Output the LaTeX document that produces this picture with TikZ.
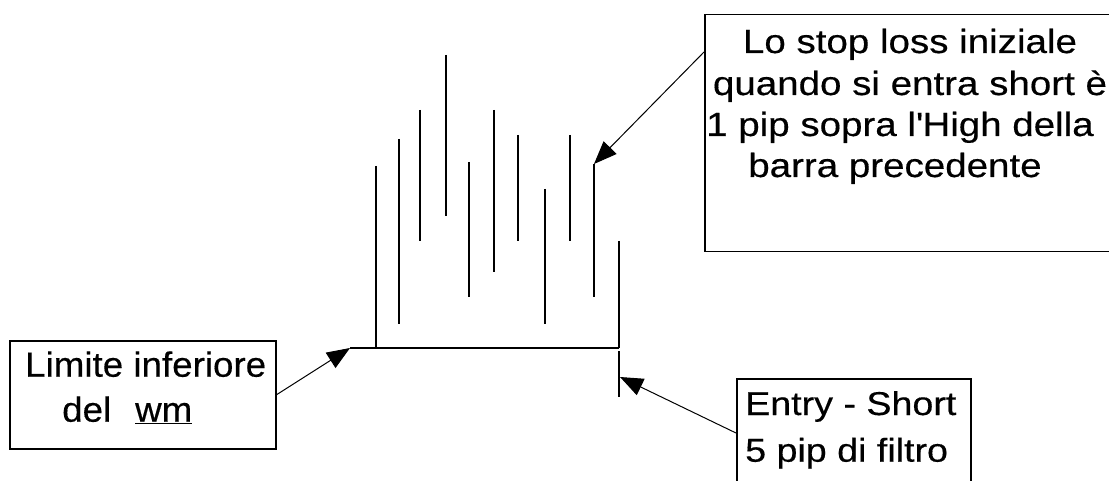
\documentclass[tikz,border=0pt]{standalone}
\usepackage{fontspec}
\setmainfont{Liberation Sans}[FakeStretch=1.12]
\newfontfamily\leftfont{Liberation Sans}[FakeStretch=1.05,FakeBold=0.4]
\newfontfamily\entryfont{Liberation Sans}[FakeStretch=1.14,FakeBold=0.4]
\newfontfamily\topfont{Liberation Sans}[FakeStretch=1.15,FakeBold=0.4]
\usetikzlibrary{arrows.meta}
\begin{document}
\begin{tikzpicture}[x=1pt,y=-1pt,
  box/.style={draw=black,line width=1.5pt,rectangle,inner sep=0pt,anchor=north west},
  bar/.style={line width=2pt,black},
  ltxt/.style={inner sep=0pt,anchor=base west,font=\leftfont\fontsize{35pt}{45pt}\selectfont},
  etxt/.style={inner sep=0pt,anchor=base west,font=\entryfont\fontsize{33pt}{45pt}\selectfont},
  ttxt/.style={inner sep=0pt,anchor=base,font=\topfont\fontsize{33.5pt}{41pt}\selectfont},
  pointer/.style={line width=1pt,-{Triangle[length=23pt,width=18pt]}}]
\clip (0,0) rectangle (1109,481);
\fill[white] (0,0) rectangle (1109,481);
% bars
\draw[bar] (375.7,166) -- (375.7,348);
\draw[bar] (399.3,139) -- (399.3,324);
\draw[bar] (420.3,110) -- (420.3,241);
\draw[bar] (446,55) -- (446,216);
\draw[bar] (469.3,162) -- (469.3,297);
\draw[bar] (494.3,110) -- (494.3,272);
\draw[bar] (518,135) -- (518,241);
\draw[bar] (545,189) -- (545,324);
\draw[bar] (570,135) -- (570,241);
\draw[bar] (594,164) -- (594,297);
\draw[bar] (619.3,241) -- (619.3,348);
\draw[bar] (619.3,351) -- (619.3,397);
\draw[bar] (350,348) -- (619.3,348);
\coordinate (bl) at (350,348);
\coordinate (b10t) at (594,164);
\coordinate (entrytip) at (620,377);
% boxes
\node[box,minimum width=266pt,minimum height=108pt] (lbox) at (9,340) {};
\node[box,minimum width=420pt,minimum height=237pt] (trbox) at (704,14) {};
\node[box,minimum width=234pt,minimum height=140pt] (ebox) at (736,378) {};
\coordinate (trs) at (704,52);
\coordinate (es) at (736,433);
% texts
\node[ltxt] (l1) at (25,376.7) {Limite inferiore};
\node[ltxt] (l2) at (62,421.7) {\makebox[73pt][l]{del}\underline{wm}};
\node[etxt] (e1) at (745,415) {Entry - Short};
\node[etxt] (e2) at (745,461.7) {5 pip di filtro};
\node[ttxt] (t1) at (910,53) {Lo stop loss iniziale};
\node[ttxt] (t2) at (910,95) {quando si entra short è};
\node[ttxt] (t3) at (900,136) {1 pip sopra l\textquotesingle High della};
\node[ttxt] (t4) at (895,177) {barra precedente};
% arrows
\draw[pointer] (lbox.east) -- (bl);
\draw[pointer] (trs) -- (b10t);
\draw[pointer] (es) -- (entrytip);
\end{tikzpicture}
\end{document}
